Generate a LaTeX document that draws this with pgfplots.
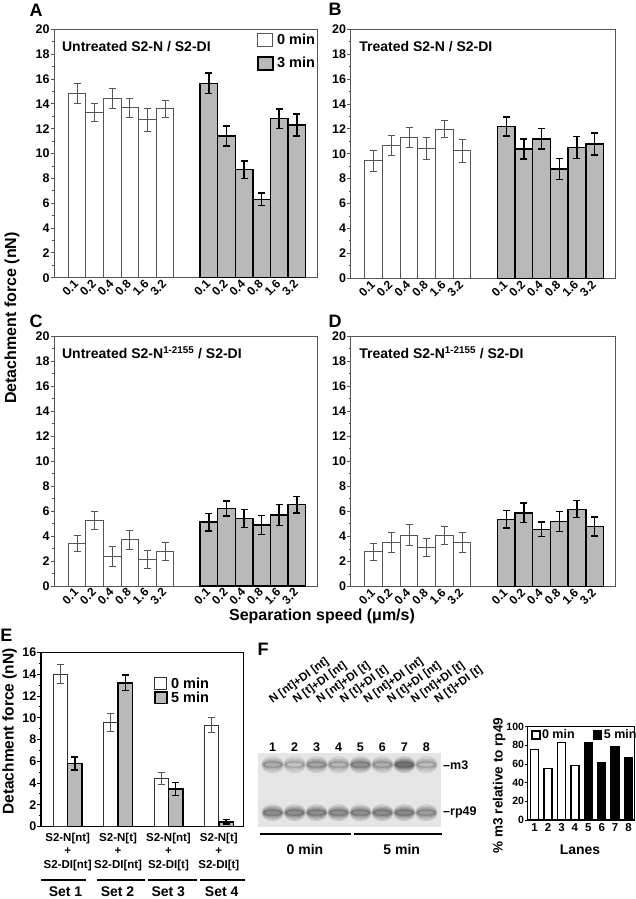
\documentclass[border=0pt]{standalone}
\usepackage{pgfplots}
\usepackage{pgfplotstable}
\pgfplotsset{compat=1.18}
\usepackage{fontspec}
\setmainfont{Liberation Sans}
\definecolor{barg}{RGB}{185,185,185}
\definecolor{axg}{RGB}{85,85,85}
\definecolor{gelbg}{RGB}{229,229,229}
\newcommand{\fs}[1]{\fontsize{#1}{#1}\selectfont\bfseries}
\def\lgw{15pt}\def\lgh{6.5pt}
\tikzset{ptitle/.style={anchor=west, font=\fs{14}, inner sep=0pt}}
\pgfplotsset{
 /pgf/number format/assume math mode=true,
 lgbox/.style={legend image code/.code={\draw[##1] (0pt,-\lgh) rectangle (\lgw,\lgh);}},
 abcd/.style={
   scale only axis, anchor=south west,
   ymin=0, ymax=20, ytick={0,2,...,20}, minor y tick num=1,
   xmin=-0.3, xmax=14.65,
   xtick={1,2,3,4,5,6,8.5,9.5,10.5,11.5,12.5,13.5},
   xticklabels={0.1,0.2,0.4,0.8,1.6,3.2,0.1,0.2,0.4,0.8,1.6,3.2},
   xticklabel style={rotate=45, anchor=east, font=\fs{12}, inner sep=1pt},
   yticklabel style={font=\fs{12.5}, inner sep=1pt},
   major x tick style={draw=none},
   tick align=outside, ytick pos=left, xtick pos=bottom,
   major tick length=3.5pt, minor tick length=2pt,
   tick style={axg, line width=0.8pt},
   axis line style={axg, line width=1pt},
   clip=false,
 },
 wbar/.style={ybar, bar width=1, bar shift=0pt, fill=white, draw=axg, line width=1pt, lgbox,
   error bars/y dir=both, error bars/y explicit,
   error bars/error bar style={axg, line width=0.9pt},
   error bars/error mark options={rotate=90, mark size=3.5pt, axg, line width=0.9pt}},
 gbar/.style={ybar, bar width=1, bar shift=0pt, fill=barg, draw=black, line width=1.4pt, lgbox,
   error bars/y dir=both, error bars/y explicit,
   error bars/error bar style={black, line width=1.5pt},
   error bars/error mark options={rotate=90, mark size=3.5pt, black, line width=1.5pt}},
 band/.style n args={4}{scatter, only marks, mark=*, point meta=explicit,
   scatter/use mapped color={draw=none, fill=mapped color}, mark size=#1,
   mark options={xscale=#2, yscale=#3, opacity=#4}},
}
\pgfplotstableread{
x y c
1 62 0.34
2 62 0.12
3 62 0.44
4 62 0.24
5 62 0.62
6 62 0.34
7 62 0.94
8 62 0.18
1 14 0.67
2 14 0.67
3 14 0.68
4 14 0.65
5 14 0.65
6 14 0.69
7 14 0.71
8 14 0.50
}\geltable
\begin{document}
\begin{tikzpicture}
\path[use as bounding box, fill=white] (0pt,0pt) rectangle (636pt,-899pt);

% ---------- A ----------
\begin{axis}[abcd, at={(54.3pt,-277.7pt)}, width=262.7pt, height=248.4pt,
  legend style={at={(0.7716,0.985)}, anchor=north west, draw=none, fill=none, inner sep=0pt,
    row sep=9pt, column sep=3pt, font=\fs{14.5}, nodes={inner sep=0.5pt}},
  legend cell align=left]
\addplot[wbar] table[x=x,y=y,y error=e]{
x y e
1 14.8 0.8
2 13.3 0.7
3 14.4 0.8
4 13.7 0.77
5 12.7 0.9
6 13.6 0.7
};
\addplot[gbar] table[x=x,y=y,y error=e]{
x y e
8.5 15.65 0.83
9.5 11.4 0.8
10.5 8.7 0.7
11.5 6.3 0.5
12.5 12.8 0.8
13.5 12.3 0.88
};
\legend{0 min, 3 min}
\node[ptitle] at (rel axis cs:0.029,0.929) {Untreated S2-N / S2-DI};
\end{axis}

% ---------- B ----------
\begin{axis}[abcd, at={(350.7pt,-278.2pt)}, width=264.3pt, height=248.9pt]
\addplot[wbar] table[x=x,y=y,y error=e]{
x y e
1 9.44 0.83
2 10.7 0.8
3 11.34 0.8
4 10.43 0.9
5 11.98 0.7
6 10.24 0.9
};
\addplot[gbar] table[x=x,y=y,y error=e]{
x y e
8.5 12.19 0.75
9.5 10.37 0.8
10.5 11.2 0.83
11.5 8.77 0.85
12.5 10.5 0.9
13.5 10.78 0.9
};
\node[ptitle] at (rel axis cs:0.032,0.929) {Treated S2-N / S2-DI};
\end{axis}

% ---------- C ----------
\begin{axis}[abcd, at={(54.3pt,-586pt)}, width=262.7pt, height=250pt]
\addplot[wbar] table[x=x,y=y,y error=e]{
x y e
1 3.41 0.63
2 5.23 0.7
3 2.35 0.8
4 3.71 0.76
5 2.13 0.7
6 2.8 0.72
};
\addplot[gbar] table[x=x,y=y,y error=e]{
x y e
8.5 5.12 0.7
9.5 6.19 0.6
10.5 5.39 0.72
11.5 4.88 0.76
12.5 5.68 0.83
13.5 6.5 0.67
};
\node[ptitle] at (rel axis cs:0.029,0.932) {Untreated S2-N\textsuperscript{1-2155} / S2-DI};
\end{axis}

% ---------- D ----------
\begin{axis}[abcd, at={(350.7pt,-586.5pt)}, width=264.3pt, height=250.5pt]
\addplot[wbar] table[x=x,y=y,y error=e]{
x y e
1 2.79 0.67
2 3.51 0.82
3 4.1 0.82
4 3.14 0.73
5 4.1 0.73
6 3.51 0.8
};
\addplot[gbar] table[x=x,y=y,y error=e]{
x y e
8.5 5.37 0.7
9.5 5.88 0.78
10.5 4.57 0.57
11.5 5.19 0.78
12.5 6.17 0.68
13.5 4.79 0.77
};
\node[ptitle] at (rel axis cs:0.032,0.932) {Treated S2-N\textsuperscript{1-2155} / S2-DI};
\end{axis}

% ---------- E ----------
\def\lgw{12pt}\def\lgh{5.75pt}
\begin{axis}[scale only axis, anchor=south west, at={(41pt,-826.5pt)}, width=202.5pt, height=174pt,
  xmin=0.47, xmax=4.49, ymin=0, ymax=16, ytick={0,2,...,16}, minor y tick num=1,
  xtick={1,2,3,4},
  xticklabels={{S2-N[nt]\\+\\S2-DI[nt]},{S2-N[t]\\+\\S2-DI[nt]},{S2-N[nt]\\+\\S2-DI[t]},{S2-N[t]\\+\\S2-DI[t]}},
  xticklabel style={align=center, font=\fontsize{11.5}{13.3}\selectfont\bfseries, inner sep=1pt, yshift=-2pt},
  yticklabel style={font=\fs{12.5}, inner sep=1pt},
  major x tick style={draw=none},
  tick align=outside, ytick pos=left, xtick pos=bottom,
  major tick length=3.5pt, minor tick length=2pt,
  tick style={black, line width=0.8pt},
  axis line style={black, line width=1.3pt},
  legend style={at={(0.558,0.859)}, anchor=north west, draw=none, fill=none, inner sep=0pt,
    row sep=1pt, column sep=3pt, font=\fs{14.5}, nodes={inner sep=0.5pt}},
  legend cell align=left, clip=false]
\addplot[wbar, bar width=0.286, draw=black!80] table[x=x,y=y,y error=e]{
x y e
0.857 14.01 0.9
1.857 9.57 0.87
2.857 4.44 0.54
3.857 9.33 0.67
};
\addplot[gbar, bar width=0.286] table[x=x,y=y,y error=e]{
x y e
1.143 5.78 0.6
2.143 13.21 0.7
3.143 3.46 0.6
4.143 0.43 0.2
};
\legend{0 min, 5 min}
\end{axis}

% ---------- F gel ----------
\begin{axis}[scale only axis, anchor=south west, at={(258pt,-826.7pt)}, width=183pt, height=74pt,
  xmin=0.33, xmax=8.67, ymin=0, ymax=74,
  axis line style={draw=none}, axis background/.style={fill=gelbg},
  ytick=\empty, xtick={1,...,8}, xticklabel pos=right, major tick length=0pt,
  xticklabel style={font=\fs{12.5}, inner sep=1pt},
  colormap={gel}{gray(0cm)=(0.78); gray(1cm)=(0.28)},
  point meta min=0, point meta max=1, clip=true]
\addplot[band={11pt}{1.0}{0.75}{0.12}] table[x=x,y=y,meta=c]{\geltable};
\addplot[band={9.5pt}{1.1}{0.72}{0.15}] table[x=x,y=y,meta=c]{\geltable};
\addplot[band={8pt}{1.25}{0.7}{0.18}] table[x=x,y=y,meta=c]{\geltable};
\addplot[band={6.5pt}{1.45}{0.68}{0.22}] table[x=x,y=y,meta=c]{\geltable};
\addplot[band={5pt}{1.8}{0.66}{0.26}] table[x=x,y=y,meta=c]{\geltable};
\addplot[band={3.5pt}{2.4}{0.7}{0.3}] table[x=x,y=y,meta=c]{\geltable};
\end{axis}

% ---------- F bars ----------
\def\lgw{8pt}\def\lgh{4pt}
\begin{axis}[scale only axis, anchor=south west, at={(527.7pt,-820pt)}, width=107pt, height=93.3pt,
  xmin=0.48, xmax=8.46, ymin=0, ymax=100, ytick={0,20,...,100},
  xtick={1,...,8},
  xticklabel style={font=\fs{11.5}, inner sep=1pt},
  yticklabel style={font=\fs{10.5}, inner sep=1pt},
  major x tick style={draw=none},
  tick align=outside, ytick pos=left, xtick pos=bottom,
  major tick length=2.5pt,
  tick style={black, line width=0.8pt},
  axis line style={black, line width=1.3pt},
  xlabel={Lanes}, ylabel={\% m3 relative to rp49},
  xlabel style={at={(axis description cs:0.489,-0.32)}, anchor=center, font=\fs{14}},
  ylabel style={at={(axis description cs:-0.268,0.37)}, anchor=center, font=\fs{13.5}},
  legend columns=2,
  legend style={at={(0.031,0.975)}, anchor=north west, draw=none, fill=none, inner sep=0pt,
    column sep=1pt, font=\fs{12.5}, nodes={inner sep=0.5pt},
    /tikz/every even column/.append style={column sep=18pt}},
  clip=false]
\addplot[ybar, bar width=0.6, bar shift=0pt, fill=white, draw=black, line width=1.3pt, lgbox]
  table[x=x,y=y]{
x y
1 75.4
2 55.4
3 83.3
4 58.3
};
\addplot[ybar, bar width=0.6, bar shift=0pt, fill=black, draw=black, line width=1.3pt, lgbox]
  table[x=x,y=y]{
x y
5 82.6
6 62
7 79
8 67
};
\legend{0 min, 5 min}
\end{axis}

% ---------- free texts ----------
\begin{scope}[x=1pt,y=-1pt]
\node[font=\fs{18}] at (36,10.5) {A};
\node[font=\fs{18}] at (335,9.5) {B};
\node[font=\fs{18}] at (36,321.5) {C};
\node[font=\fs{18}] at (335,321.5) {D};
\node[font=\fs{18}] at (6.5,635) {E};
\node[font=\fs{18}] at (263,649) {F};
\node[font=\fs{16}, rotate=90] at (12,318) {Detachment force (nN)};
\node[font=\fs{16}] at (322,616) {Separation speed (μm/s)};
\node[font=\fs{15.5}, rotate=90] at (9.5,731.5) {Detachment force (nN)};
\foreach \a/\b in {41/86, 97/145, 148/197, 200/245} \draw[line width=1.2pt] (\a,880) -- (\b,880);
\node[font=\fs{14}] at (65.5,891.7) {Set 1};
\node[font=\fs{14}] at (117.5,891.7) {Set 2};
\node[font=\fs{14}] at (168.3,891.7) {Set 3};
\node[font=\fs{14}] at (221.7,891.7) {Set 4};
% gel annotations
\foreach \i/\t in {0/{N [nt]+DI [nt]},1/{N [t]+DI [nt]},2/{N [nt]+DI [t]},3/{N [t]+DI [t]},4/{N [nt]+DI [nt]},5/{N [t]+DI [nt]},6/{N [nt]+DI [t]},7/{N [t]+DI [t]}}
  \node[font=\fs{11.5}, rotate=36, anchor=base west, inner sep=0pt] at (272.5+23.6*\i,704) {\t};
\draw[line width=2pt] (260,834.3) -- (350.7,834.3);
\draw[line width=2pt] (354,834.3) -- (441.7,834.3);
\node[font=\fs{14}] at (305,849) {0 min};
\node[font=\fs{14}] at (401.7,849) {5 min};
\node[font=\fs{12.5}, anchor=west, inner sep=0pt] at (443,765) {–m3};
\node[font=\fs{12.5}, anchor=west, inner sep=0pt] at (443,812.7) {–rp49};
\end{scope}
\end{tikzpicture}
\end{document}
